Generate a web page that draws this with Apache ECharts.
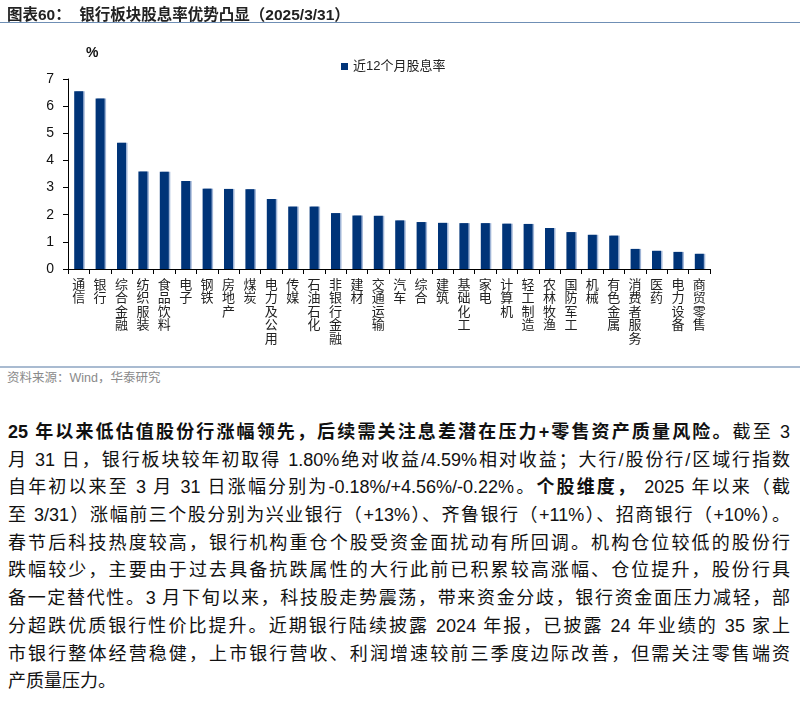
<!DOCTYPE html>
<html>
<head>
<meta charset="utf-8">
<script src="https://cdn.jsdelivr.net/npm/echarts@6/dist/echarts.min.js"></script>
<style>
  body { margin: 0; background: #fff; font-family: "Liberation Sans", Arial, "Noto Sans CJK SC", sans-serif; }
  #page { position: relative; width: 800px; height: 702px; overflow: hidden; }
  #title { position: absolute; left: 7px; top: 2px; font-size: 15.5px; font-weight: bold; color: #222; }
  #titleLine { position: absolute; left: 0; top: 22px; width: 800px; height: 1px; background: #6f8fb5; }
  #chart { position: absolute; left: 0; top: 0; width: 800px; height: 366px; }
  #srcLine { position: absolute; left: 0; top: 366px; width: 800px; height: 2px; background: #a9bbd1; }
  #source { position: absolute; left: 7px; top: 367px; font-size: 12.5px; color: #8a8a8a; }
  #text { position: absolute; left: 8px; top: 419px; width: 782px; font-size: 18px; color: #111; }
  #text .ln { height: 27.7px; line-height: 27.7px; text-align: justify; text-align-last: justify; white-space: nowrap; }
  #text .ln.last { text-align-last: left; }
  b { font-weight: bold; }
</style>
</head>
<body>
<div id="page">
  <div id="chart"></div>
  <div id="title">图表60：&nbsp;&nbsp;银行板块股息率优势凸显（2025/3/31）</div>
  <div id="titleLine"></div>
  <div id="srcLine"></div>
  <div id="source">资料来源：Wind，华泰研究</div>
  <div id="text">
    <div class="ln"><b>25 年以来低估值股份行涨幅领先，后续需关注息差潜在压力+零售资产质量风险。</b>截至 3</div>
    <div class="ln">月 31 日，银行板块较年初取得 1.80%绝对收益/4.59%相对收益；大行/股份行/区域行指数</div>
    <div class="ln">自年初以来至 3 月 31 日涨幅分别为-0.18%/+4.56%/-0.22%。<b>个股维度，</b> 2025 年以来（截</div>
    <div class="ln">至 3/31）涨幅前三个股分别为兴业银行（+13%）、齐鲁银行（+11%）、招商银行（+10%）。</div>
    <div class="ln">春节后科技热度较高，银行机构重仓个股受资金面扰动有所回调。机构仓位较低的股份行</div>
    <div class="ln">跌幅较少，主要由于过去具备抗跌属性的大行此前已积累较高涨幅、仓位提升，股份行具</div>
    <div class="ln">备一定替代性。3 月下旬以来，科技股走势震荡，带来资金分歧，银行资金面压力减轻，部</div>
    <div class="ln">分超跌优质银行性价比提升。近期银行陆续披露 2024 年报，已披露 24 年业绩的 35 家上</div>
    <div class="ln">市银行整体经营稳健，上市银行营收、利润增速较前三季度边际改善，但需关注零售端资</div>
    <div class="ln last">产质量压力。</div>
  </div>
</div>
<script>
const categories = ['通信', '银行', '综合金融', '纺织服装', '食品饮料', '电子', '钢铁', '房地产', '煤炭', '电力及公用',
  '传媒', '石油石化', '非银行金融', '建材', '交通运输', '汽车', '综合', '建筑', '基础化工', '家电',
  '计算机', '轻工制造', '农林牧渔', '国防军工', '机械', '有色金属', '消费者服务', '医药', '电力设备', '商贸零售'];
const dividendYield = [6.55, 6.28, 4.65, 3.59, 3.58, 3.24, 2.96, 2.95, 2.94, 2.58,
  2.30, 2.30, 2.06, 1.97, 1.96, 1.79, 1.73, 1.70, 1.69, 1.69,
  1.67, 1.66, 1.51, 1.36, 1.26, 1.23, 0.74, 0.67, 0.63, 0.56];
const seriesName = '近12个月股息率';

const chart = echarts.init(document.getElementById('chart'));
chart.setOption({
  animation: false,
  grid: { left: 68, top: 79, width: 642, height: 190, containLabel: false },
  legend: {
    data: [seriesName], left: 336, top: 55, icon: 'rect', itemWidth: 7, itemHeight: 7, itemGap: 6,
    textStyle: { fontSize: 13, color: '#222', fontFamily: 'Liberation Sans, Noto Sans CJK SC' }
  },
  xAxis: {
    type: 'category',
    data: categories,
    axisLine: { lineStyle: { color: '#000', width: 1 } },
    axisTick: { show: true, length: 5, lineStyle: { color: '#000' } },
    axisLabel: {
      interval: 0, margin: 8, fontSize: 13, lineHeight: 13.5, color: '#222',
      fontFamily: 'Noto Sans CJK SC',
      formatter: v => v.split('').join('\n')
    }
  },
  yAxis: {
    type: 'value', min: 0, max: 7, interval: 1,
    name: '%', nameLocation: 'end', nameGap: 19,
    nameTextStyle: { align: 'left', padding: [0, 0, 0, 18], fontSize: 14, fontWeight: 'bold', color: '#111', fontFamily: 'Liberation Sans' },
    splitLine: { show: false },
    axisLine: { show: true, lineStyle: { color: '#000', width: 1 } },
    axisTick: { show: true, inside: false, length: 5, lineStyle: { color: '#000' } },
    axisLabel: { fontSize: 14, color: '#111', margin: 14, fontFamily: 'Liberation Sans' }
  },
  series: [{
    name: seriesName,
    type: 'bar',
    data: dividendYield,
    barWidth: 9,
    itemStyle: { color: '#003478', shadowColor: '#9fb4d6', shadowOffsetX: 1.5, shadowBlur: 0 }
  }]
});
</script>
</body>
</html>
